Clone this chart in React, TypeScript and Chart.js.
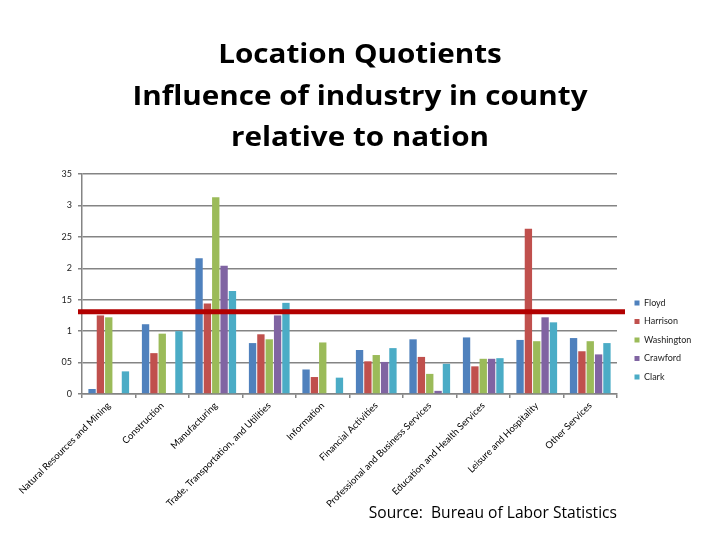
import React, { useEffect, useRef } from "react";
import { Chart, registerables } from "chart.js";

Chart.register(...registerables);

const categories = [
  "Natural Resources and Mining",
  "Construction",
  "Manufacturing",
  "Trade, Transportation, and Utilities",
  "Information",
  "Financial Activities",
  "Professional and Business Services",
  "Education and Health Services",
  "Leisure and Hospitality",
  "Other Services",
];

const floyd = [0.08, 1.11, 2.16, 0.81, 0.39, 0.7, 0.87, 0.9, 0.86, 0.89];
const harrison = [1.25, 0.65, 1.44, 0.95, 0.27, 0.52, 0.59, 0.44, 2.63, 0.68];
const washington = [1.22, 0.96, 3.13, 0.87, 0.82, 0.62, 0.32, 0.56, 0.84, 0.84];
const crawford = [0, 0, 2.04, 1.25, 0, 0.51, 0.05, 0.56, 1.22, 0.63];
const clark = [0.36, 1.0, 1.64, 1.45, 0.26, 0.73, 0.48, 0.57, 1.14, 0.81];

const seriesNames = ["Floyd", "Harrison", "Washington", "Crawford", "Clark"];
const seriesColors = ["#4F81BD", "#C0504D", "#9BBB59", "#8064A2", "#4BACC6"];

const yTickLabels = ["0", "05", "1", "15", "2", "25", "3", "35"];
const threshold = 1.31;

const titleLines = [
  "Location Quotients",
  "Influence of industry in county",
  "relative to nation",
];
const sourceText = "Source:  Bureau of Labor Statistics";

// layout constants
const W = 720;
const H = 540;
const PLOT_LEFT = 82;
const PLOT_TOP = 174;
const PLOT_BOTTOM = 394;
const PLOT_RIGHT = 617;
const LEGEND_BOTTOM_PAD = 34;
const LEGEND_FONT = 9;
const LEGEND_PAD = 9.5;
const LEGEND_BOX = 5;
const LEGEND_FAMILY = "Lato";
const LEGEND_NUDGE = 8;

const thresholdLine = {
  id: "thresholdLine",
  afterDatasetsDraw(chart: any) {
    const { ctx, chartArea, scales } = chart;
    const y = scales.y.getPixelForValue(threshold);
    ctx.save();
    ctx.strokeStyle = "#B20000";
    ctx.lineWidth = 5;
    ctx.beginPath();
    ctx.moveTo(chartArea.left - 4, y);
    ctx.lineTo(chartArea.right + 8, y);
    ctx.stroke();
    ctx.restore();
  },
};

const legendNudge = {
  id: "legendNudge",
  afterLayout(chart: any) {
    const l = chart.legend;
    if (l) {
      l.left += LEGEND_NUDGE;
      l.right += LEGEND_NUDGE;
      l.bottom = H - LEGEND_BOTTOM_PAD;
      l.height = l.bottom - l.top;
    }
  },
};

function legendWidth(): number {
  const c = document.createElement("canvas");
  const ctx = c.getContext("2d")!;
  ctx.font = `${LEGEND_FONT}px ${LEGEND_FAMILY}`;
  let maxW = 0;
  for (const n of seriesNames) maxW = Math.max(maxW, ctx.measureText(n).width);
  return LEGEND_PAD + LEGEND_BOX + LEGEND_FONT / 2 + maxW + 10;
}

export default function App() {
  const ref = useRef<HTMLCanvasElement | null>(null);

  useEffect(() => {
    if (!ref.current) return;
    const padRight = Math.max(0, W - PLOT_RIGHT - legendWidth());
    const data = [floyd, harrison, washington, crawford, clark];
    const chart = new Chart(ref.current, {
      type: "bar",
      data: {
        labels: categories,
        datasets: seriesNames.map((name, i) => ({
          label: name,
          data: data[i],
          backgroundColor: seriesColors[i],
          borderWidth: 0,
          categoryPercentage: 0.78,
          barPercentage: 0.88,
        })),
      },
      options: {
        responsive: false,
        animation: false,
        devicePixelRatio: 1,
        layout: {
          padding: { top: PLOT_TOP, left: 0, right: padRight, bottom: 0 },
        },
        plugins: {
          legend: {
            position: "right",
            align: "center",
            labels: {
              boxWidth: LEGEND_BOX,
              boxHeight: LEGEND_BOX,
              padding: LEGEND_PAD,
              color: "#222",
              font: { family: LEGEND_FAMILY, size: LEGEND_FONT },
            },
          },
          title: { display: false },
          tooltip: { enabled: false },
        },
        scales: {
          x: {
            afterFit(scale: any) {
              scale.height = H - PLOT_BOTTOM;
            },
            grid: {
              drawOnChartArea: false,
              drawTicks: true,
              tickLength: 4,
              color: "#848484",
              lineWidth: 1.5,
            },
            border: { display: true, color: "#848484", width: 1.5 },
            ticks: {
              autoSkip: false,
              minRotation: 45,
              maxRotation: 45,
              padding: 2,
              color: "#000",
              font: { family: "Lato", size: 9.5 },
            },
          },
          y: {
            min: 0,
            max: 3.5,
            afterFit(scale: any) {
              scale.width = PLOT_LEFT;
            },
            grid: {
              color: "#848484",
              lineWidth: 1.5,
              tickLength: 4,
            },
            border: { display: true, color: "#848484", width: 1.5 },
            ticks: {
              stepSize: 0.5,
              padding: 6,
              color: "#222",
              font: { family: "Lato", size: 9 },
              callback: (_v: any, i: number) => yTickLabels[i],
            },
          },
        },
      },
      plugins: [thresholdLine, legendNudge],
    });
    return () => chart.destroy();
  }, []);

  return (
    <div
      style={{
        position: "fixed",
        left: 0,
        top: 0,
        width: W,
        height: H,
        background: "#fff",
        overflow: "hidden",
      }}
    >
      <canvas
        ref={ref}
        width={W}
        height={H}
        style={{ position: "absolute", left: 0, top: 0, width: W, height: H, display: "block" }}
      />
      <div
        style={{
          position: "absolute",
          left: 0,
          top: 33,
          width: W,
          textAlign: "center",
          fontFamily: "'Open Sans'",
          fontWeight: 700,
          fontSize: 26,
          lineHeight: "41.5px",
          fontVariantLigatures: "none",
          color: "#000",
          transform: "scaleX(1.14)",
          transformOrigin: "360px 0",
        }}
      >
        {titleLines.map((t, i) => (
          <div key={i}>{t}</div>
        ))}
      </div>
      <div
        style={{
          position: "absolute",
          right: W - PLOT_RIGHT,
          top: 502,
          fontFamily: "'Open Sans'",
          fontSize: 15.6,
          lineHeight: "20px",
          whiteSpace: "pre",
          color: "#000",
        }}
      >
        {sourceText}
      </div>
    </div>
  );
}
